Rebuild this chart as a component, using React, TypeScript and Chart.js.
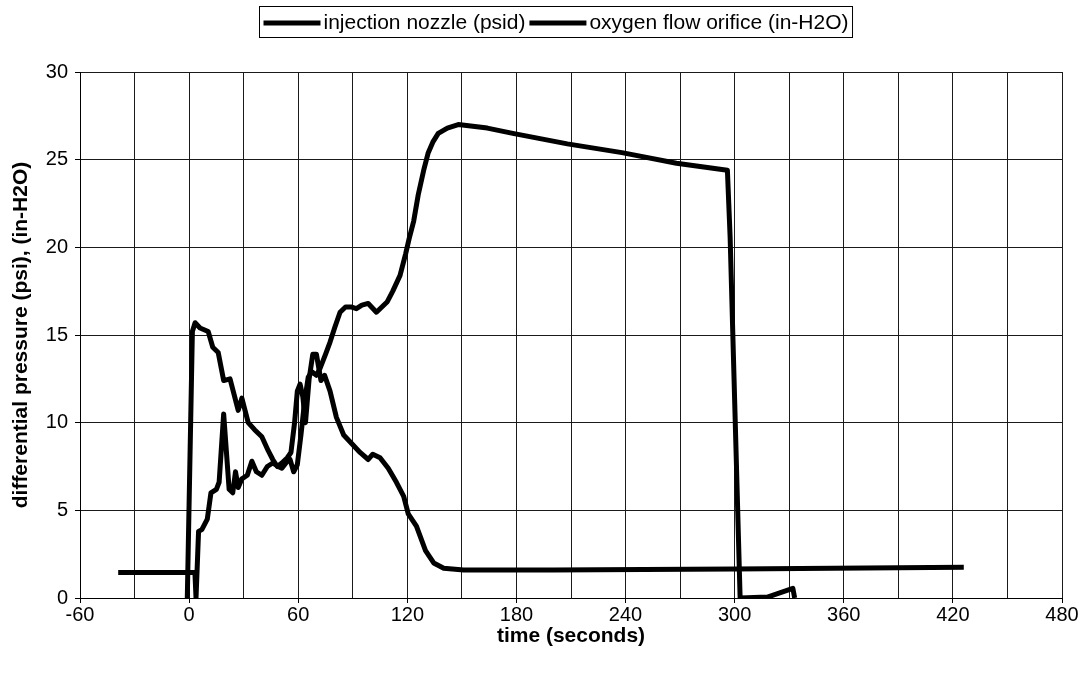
import React, { useEffect, useRef } from 'react';
import { Chart, registerables } from 'chart.js';

Chart.register(...registerables);

// ---- data ----
const seriesLabels = ['injection nozzle (psid)', 'oxygen flow orifice (in-H2O)'];

const injectionTime = [
  -39, 3.2, 3.8, 5.2, 7, 10, 12, 15, 16.5, 19, 22, 24, 25.5, 27, 29, 32, 34.5, 37, 40, 43, 46, 49, 51,
  54, 55.5, 57.5, 59.5, 61.5, 63.5, 65.5, 67.5, 70, 72, 75, 77.5, 80, 83, 86, 89, 92, 95, 98.5, 103,
  106, 109, 112, 116, 119, 121, 123.5, 126, 129, 131.5, 134, 137, 142, 148, 164, 178, 208, 238, 268,
  296, 297.5, 303, 318, 332, 333,
];
const injectionPsid = [
  1.45, 1.45, 0, 3.8, 3.9, 4.5, 6.0, 6.2, 6.6, 10.5, 6.2, 6.0, 7.2, 6.3, 6.8, 7.0, 7.8, 7.2, 7.0, 7.5, 7.7, 7.5, 7.4,
  7.8, 7.9, 7.2, 7.6, 9.3, 11.2, 12.6, 12.9, 12.7, 13.1, 13.9, 14.6, 15.4, 16.3, 16.6, 16.6, 16.5, 16.7, 16.8, 16.3,
  16.6, 16.9, 17.5, 18.4, 19.6, 20.5, 21.5, 23.0, 24.4, 25.4, 26.0, 26.5, 26.8, 27.0, 26.8, 26.5, 25.9, 25.4, 24.8,
  24.4, 20.6, 0, 0.05, 0.55, 0,
];

const orificeTime = [
  -1, 1.8, 3.3, 6, 10.5, 13, 16, 19, 22.5, 25, 27, 29, 32.5, 36, 40, 43.5, 46, 48.5, 51, 54, 56, 58,
  59.5, 61, 62.5, 64, 66, 68, 70, 72.5, 74.5, 77.5, 81, 85, 89.5, 94, 98.5, 101, 105, 109.5, 114, 118,
  120.5, 125, 130, 134.5, 140, 151, 200, 300, 426,
];
const orificeInH2O = [
  0, 15.2, 15.7, 15.4, 15.2, 14.3, 14.0, 12.4, 12.5, 11.5, 10.7, 11.4, 10.0, 9.6, 9.2, 8.4, 7.9, 7.5, 7.7, 8.0, 8.3, 10.0,
  11.8, 12.2, 11.5, 10.0, 12.5, 13.9, 13.9, 12.4, 12.7, 11.8, 10.3, 9.3, 8.8, 8.3, 7.9, 8.2, 8.0, 7.4, 6.6, 5.8,
  4.8, 4.1, 2.7, 2.0, 1.7, 1.6, 1.6, 1.65, 1.75,
];

const xMin = -60;
const xMax = 480;
const xGridStep = 30;
const xLabelStep = 60;
const yMin = 0;
const yMax = 30;
const yStep = 5;
const xTitle = 'time (seconds)';
const yTitle = 'differential pressure (psi), (in-H2O)';

const FONT = '"Liberation Sans", Arial, Helvetica, sans-serif';

const toPoints = (xs: number[], ys: number[]) => xs.map((x, i) => ({ x, y: ys[i] }));

const boxLegend = {
  id: 'boxLegend',
  afterDraw(chart: any) {
    const ctx = chart.ctx as CanvasRenderingContext2D;
    ctx.save();
    ctx.font = `21px ${FONT}`;
    ctx.textBaseline = 'middle';
    const markerW = 57;
    const markerGap = 3;
    const itemGap = 4;
    const items = chart.data.datasets.map((ds: any) => ({
      label: ds.label as string,
      w: ctx.measureText(ds.label).width,
    }));
    const total =
      items.reduce((s: number, it: any) => s + markerW + markerGap + it.w, 0) + itemGap * (items.length - 1);
    const boxPad = 4;
    const boxW = total + boxPad * 2;
    const boxX = Math.round(556 - boxW / 2) + 0.5;
    const boxY = 6.5;
    const boxH = 31;
    ctx.fillStyle = '#fff';
    ctx.fillRect(boxX, boxY, boxW, boxH);
    ctx.strokeStyle = '#000';
    ctx.lineWidth = 1;
    ctx.strokeRect(boxX, boxY, boxW, boxH);
    let x = boxX + boxPad;
    const cy = boxY + boxH / 2 + 1;
    items.forEach((it: any) => {
      ctx.fillStyle = '#000';
      ctx.fillRect(x, cy - 2.5, markerW, 5);
      x += markerW + markerGap;
      ctx.fillText(it.label, x, cy);
      x += it.w + itemGap;
    });
    ctx.restore();
  },
};

export default function App() {
  const canvasRef = useRef<HTMLCanvasElement | null>(null);

  useEffect(() => {
    if (!canvasRef.current) return;
    const chart = new Chart(canvasRef.current, {
      type: 'scatter',
      data: {
        datasets: [
          {
            label: seriesLabels[0],
            data: toPoints(injectionTime, injectionPsid),
            showLine: true,
            borderColor: '#000',
            backgroundColor: '#000',
            borderWidth: 5,
            pointRadius: 0,
            pointHoverRadius: 0,
            tension: 0,
            borderJoinStyle: 'round',
            borderCapStyle: 'butt',
          },
          {
            label: seriesLabels[1],
            data: toPoints(orificeTime, orificeInH2O),
            showLine: true,
            borderColor: '#000',
            backgroundColor: '#000',
            borderWidth: 5,
            pointRadius: 0,
            pointHoverRadius: 0,
            tension: 0,
            borderJoinStyle: 'round',
            borderCapStyle: 'butt',
          },
        ],
      },
      options: {
        animation: false,
        responsive: false,
        maintainAspectRatio: false,
        events: [],
        layout: { padding: { top: 72, right: 24, bottom: 0, left: 0 } },
        plugins: {
          legend: { display: false },
          tooltip: { enabled: false },
          title: { display: false },
        },
        scales: {
          x: {
            type: 'linear',
            min: xMin,
            max: xMax,
            afterFit: (scale: any) => {
              scale.height = 79;
            },
            afterBuildTicks: (scale: any) => {
              const t = [];
              for (let v = xMin; v <= xMax; v += xGridStep) t.push({ value: v });
              scale.ticks = t;
            },
            ticks: {
              autoSkip: false,
              maxRotation: 0,
              color: '#000',
              padding: 2,
              font: { family: FONT, size: 20, lineHeight: 1 },
              callback: (v: any) => (Number(v) % xLabelStep === 0 ? String(v) : ''),
            },
            grid: {
              color: '#1a1a1a',
              lineWidth: 1,
              tickLength: 5,
              tickColor: (c: any) => (c.tick && c.tick.value % xLabelStep === 0 ? '#000' : 'rgba(0,0,0,0)'),
            },
            border: { color: '#000', width: 1 },
            title: {
              display: true,
              text: xTitle,
              color: '#000',
              font: { family: FONT, size: 21, weight: 'bold', lineHeight: 1.2 },
              padding: { top: 0, bottom: 28 },
            },
          },
          y: {
            type: 'linear',
            min: yMin,
            max: yMax,
            afterFit: (scale: any) => {
              scale.width = 80;
            },
            ticks: {
              stepSize: yStep,
              color: '#000',
              padding: 7,
              font: { family: FONT, size: 20 },
            },
            grid: { color: '#1a1a1a', lineWidth: 1, tickLength: 5, tickColor: '#000' },
            border: { color: '#000', width: 1 },
            title: {
              display: true,
              text: yTitle,
              color: '#000',
              font: { family: FONT, size: 21, weight: 'bold', lineHeight: 1.2 },
              padding: { top: 9, bottom: 0 },
            },
          },
        },
      },
      plugins: [boxLegend],
    });
    return () => chart.destroy();
  }, []);

  return (
    <div style={{ position: 'fixed', left: 0, top: 0, width: 1086, height: 677, background: '#fff' }}>
      <canvas ref={canvasRef} width={1086} height={677} style={{ width: 1086, height: 677, display: 'block' }} />
    </div>
  );
}
